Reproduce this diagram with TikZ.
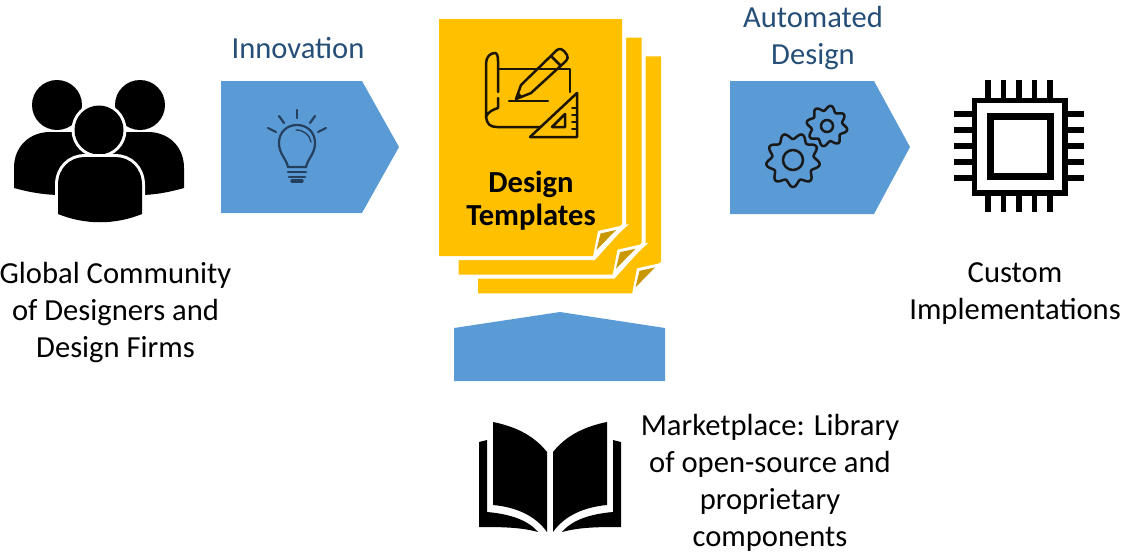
\documentclass[tikz,border=0pt]{standalone}
\usepackage{fontspec}
\setmainfont{Carlito}
\usepackage{xcolor}
\definecolor{chevronblue}{HTML}{5B9BD5}
\definecolor{labelblue}{HTML}{264F78}
\definecolor{pageyellow}{HTML}{FFC000}
\definecolor{folddark}{HTML}{C99700}
\definecolor{bulbdark}{HTML}{24405E}
\definecolor{icondark}{HTML}{1C1500}

\begin{document}
\begin{tikzpicture}[x=1pt, y=-1pt]
    \tikzstyle{chevron} = [fill=chevronblue]
    \tikzstyle{page} = [fill=pageyellow, preaction={draw=white, line width=8pt}]
    \tikzstyle{caption} = [align=center, inner sep=0pt, font=\fontsize{30.6}{37}\selectfont]
    \tikzstyle{flowlabel} = [caption, text=labelblue]
    \tikzstyle{bulbline} = [draw=bulbdark, line width=2.2pt, line cap=round]
    \tikzstyle{sketchline} = [draw=icondark, line width=2.5pt, line join=round, line cap=round]
    \tikzstyle{gearline} = [draw=black!90, line width=2.5pt]
    \tikzstyle{person} = [fill=black, preaction={draw=white, line width=6pt}]
    \useasboundingbox (0,0) rectangle (1122,552);

    % Chevrons
    \fill[chevron] (221,81) -- (362,81) -- (399,147) -- (362,213) -- (221,213) -- cycle;
    \fill[chevron] (730,81) -- (874,81) -- (910,147) -- (874,214) -- (730,214) -- cycle;
    \fill[chevron] (454,328) -- (560,312) -- (665,328) -- (665,381) -- (454,381) -- cycle;

    % Pages
    \foreach \i in {2,1,0} {
        \begin{scope}[shift={(439+\i*19.5,19+\i*18.7)}]
            \path[page] (0,0) -- (183,0) -- (183,205) -- (154,237) -- (0,237) -- cycle;
            \fill[white] (159,212) -- (190,205) -- (154,238) -- cycle;
            \fill[folddark] (161.5,214.5) -- (177,211) -- (157.5,231) -- cycle;
        \end{scope}
    }

    % People
    \fill (57,105) circle (25);
    \fill (140,105) circle (25);
    \fill (14,188) -- (14,168) .. controls (14,146) and (30,132) .. (50,132) -- (148,132)
        .. controls (168,132) and (184,146) .. (184,168) -- (184,188)
        .. controls (170,192) and (155,195) .. (140,195) -- (60,195)
        .. controls (45,195) and (28,192) .. (14,188) -- cycle;
    \path[person] (99,130) circle (24.5);
    \path[person] (58,214) -- (58,185) .. controls (58,168) and (70,157) .. (85,157) -- (115,157)
        .. controls (130,157) and (142,168) .. (142,185) -- (142,214)
        .. controls (115,225) and (85,225) .. (58,214) -- cycle;

    % Bulb
    \draw[bulbline] (297,110) -- (297,118);
    \draw[bulbline] (279,116) -- (284,123);
    \draw[bulbline] (315,116) -- (310,123);
    \draw[bulbline] (268,128) -- (276,132);
    \draw[bulbline] (326,128) -- (318,132);
    \draw[bulbline] (288,167) .. controls (286,158) and (279,154) .. (279,143)
        .. controls (279,132) and (287,125) .. (297,125)
        .. controls (307,125) and (315,132) .. (315,143)
        .. controls (315,154) and (308,158) .. (306,167) -- cycle;
    \draw[bulbline, line width=1.4pt] (296,130) .. controls (304,130) and (310,135) .. (311,142);
    \draw[bulbline, line width=2.6pt] (288,172) -- (306,172);
    \draw[bulbline, line width=2.6pt] (289,177) -- (305,177);
    \draw[bulbline, line width=3.4pt] (292,181) -- (302,181);

    % Blueprint
    \draw[sketchline] (498,69) -- (570,69) -- (570,92);
    \draw[sketchline] (486,117) .. controls (487,124) and (490,127) .. (497,127) -- (545,127);
    \draw[sketchline] (498,92) -- (498,61) .. controls (498,56) and (497,53) .. (495,53)
        .. controls (490,53) and (486,57) .. (486,64) -- (486,117)
        .. controls (488,112) and (492,110) .. (498,108) -- (498,98);
    \draw[sketchline] (509,101) -- (548,101);
    \draw[sketchline] (516,99) -- (521,85) -- (557,50) .. controls (560,48) and (562,49) .. (564,51)
        -- (567,55) .. controls (568,57) and (568,59) .. (566,61) -- (531,93) -- cycle;
    \draw[sketchline] (551,56) -- (561,66);
    \fill[icondark] (516,99) -- (518,92) -- (523,97) -- cycle;
    \draw[sketchline, fill=pageyellow] (530,137) -- (577,93) -- (577,137) -- cycle;
    \draw[sketchline] (552,127) -- (565,114) -- (565,127) -- cycle;
    \foreach \ty in {108,115,122,129} {
        \draw[sketchline, line width=1.8pt] (577,\ty) -- (572,\ty);
    }

    % Gears
    \draw[gearline] plot[domain=0:360, samples=145, smooth cycle] ({793+(24+3*sin(9*\x))*cos(\x)},{160+(24+3*sin(9*\x))*sin(\x)});
    \draw[gearline] (793,160) circle (10);
    \draw[gearline] plot[domain=0:360, samples=145, smooth cycle] ({827+(18+2.5*sin(8*\x))*cos(\x)},{126+(18+2.5*sin(8*\x))*sin(\x)});
    \draw[gearline] (827,126) circle (6);

    % Chip
    \draw[line width=5.5pt] (974.5,100.5) rectangle (1065,193);
    \draw[line width=7pt] (990,116) rectangle (1050,176);
    \foreach \p in {0,1,2,3,4} {
        \draw[line width=5.5pt] (988+\p*15.5,80) -- (988+\p*15.5,100);
        \draw[line width=5.5pt] (988+\p*15.5,193) -- (988+\p*15.5,212);
        \draw[line width=5.5pt] (954,114+\p*16) -- (974,114+\p*16);
        \draw[line width=5.5pt] (1065,114+\p*16) -- (1084,114+\p*16);
    }

    % Book
    \fill (493,422) .. controls (518,427) and (535,437) .. (547,452) -- (547,532)
        .. controls (535,515) and (515,507) .. (493,505) -- cycle;
    \fill (607,422) .. controls (582,427) and (565,437) .. (553,452) -- (553,532)
        .. controls (565,515) and (585,507) .. (607,505) -- cycle;
    \fill (479,442) -- (487,440) -- (487,512) .. controls (510,514) and (528,520) .. (538,532)
        .. controls (520,527) and (500,527) .. (479,527) -- cycle;
    \fill (621,442) -- (613,440) -- (613,512) .. controls (590,514) and (572,520) .. (562,532)
        .. controls (580,527) and (600,527) .. (621,527) -- cycle;

    % Labels
    \node[flowlabel] (innovation) at (298,48) {Innovation};
    \node[flowlabel] (automated) at (813,38) {Automated\\Design};
    \node[caption, font=\fontsize{30.6}{33}\selectfont\bfseries] (templates) at (531,201) {Design\\Templates};
    \node[caption] (community) at (115.5,313) {Global Community\\of Designers and\\Design Firms};
    \node[caption] (custom) at (1015,294) {Custom\\Implementations};
    \node[caption] (marketplace) at (770,482.5) {Marketplace: Library\\of open-source and\\proprietary\\components};
\end{tikzpicture}
\end{document}
